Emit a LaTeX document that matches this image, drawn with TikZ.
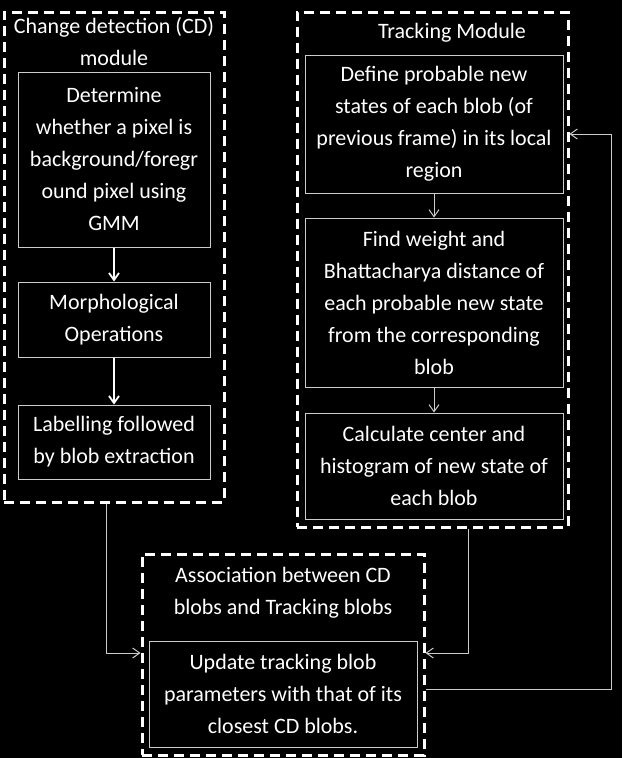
\documentclass[tikz,border=0pt]{standalone}
\usepackage{fontspec}
\setmainfont{Carlito}
\usetikzlibrary{arrows.meta,positioning}
\tikzset{
  txt/.style={text=white,align=center,inner sep=0pt,font=\fontsize{22}{32}\selectfont},
  module/.style={draw=white,line width=3pt,dash pattern=on 10pt off 6pt,inner sep=0pt},
  stepbox/.style={txt,draw=white!80!black,line width=1pt},
  flow/.style={draw=white,line width=1.8pt,-{Straight Barb[length=7pt,width=10pt]}},
  link/.style={draw=white!80!black,line width=1pt,-{Straight Barb[length=7pt,width=10pt]}}
}
\begin{document}
\begin{tikzpicture}[x=1pt,y=-1pt]

\fill[black] (0,0) rectangle (622,758);
\useasboundingbox (0,0) rectangle (622,758);

% module frames
\node[module,minimum width=220pt,minimum height=490pt] (cdmod) at (114,257) {};
\node[module,minimum width=271pt,minimum height=515pt] (trkmod) at (432.5,269.5) {};
\node[module,minimum width=282pt,minimum height=201pt] (assoc) at (283,654.5) {};

\node[txt] (cdtitle) at (114,41.5) {Change detection (CD)\\module};
\node[txt] (trktitle) at (452,33) {Tracking Module};
\node[txt] (astitle) at (283,593) {Association between CD\\blobs and Tracking blobs};

% change detection steps
\node[stepbox,minimum width=192pt,minimum height=175pt] (gmm) at (114,159.5)
  {Determine\\whether a pixel is\\background/foregr\\ound pixel using\\GMM};
\node[stepbox,minimum width=192pt,minimum height=75pt] (morph) at (114,319.5)
  {Morphological\\Operations};
\node[stepbox,minimum width=192pt,minimum height=74pt] (label) at (114,442)
  {Labelling followed\\by blob extraction};

% tracking steps
\node[stepbox,minimum width=258pt,minimum height=138pt] (states) at (434,124)
  {Define probable new\\states of each blob (of\\previous frame) in its local\\region};
\node[stepbox,minimum width=258pt,minimum height=169pt] (weight) at (434,302.5)
  {Find weight and\\Bhattacharya distance of\\each probable new state\\from the corresponding\\blob};
\node[stepbox,minimum width=258pt,minimum height=106pt] (hist) at (434,466)
  {Calculate center and\\histogram of new state of\\each blob};

% association step
\node[stepbox,minimum width=268pt,minimum height=106pt] (update) at (283,694)
  {Update tracking blob\\parameters with that of its\\closest CD blobs.};

\draw[flow] (gmm) -- (morph);
\draw[flow] (morph) -- (label);
\draw[link] (states) -- (weight);
\draw[link] (weight) -- (hist);

\coordinate (join) at (0,653);
\coordinate (fb) at (611,134);
\draw[link] ([xshift=-8pt]cdmod.south) |- (assoc.west |- join);
\draw[link] ([xshift=35.5pt]trkmod.south) |- (assoc.east |- join);
\draw[link] ([yshift=-34.5pt]assoc.east) -| (fb) -- (trkmod.east |- fb);

\end{tikzpicture}
\end{document}
